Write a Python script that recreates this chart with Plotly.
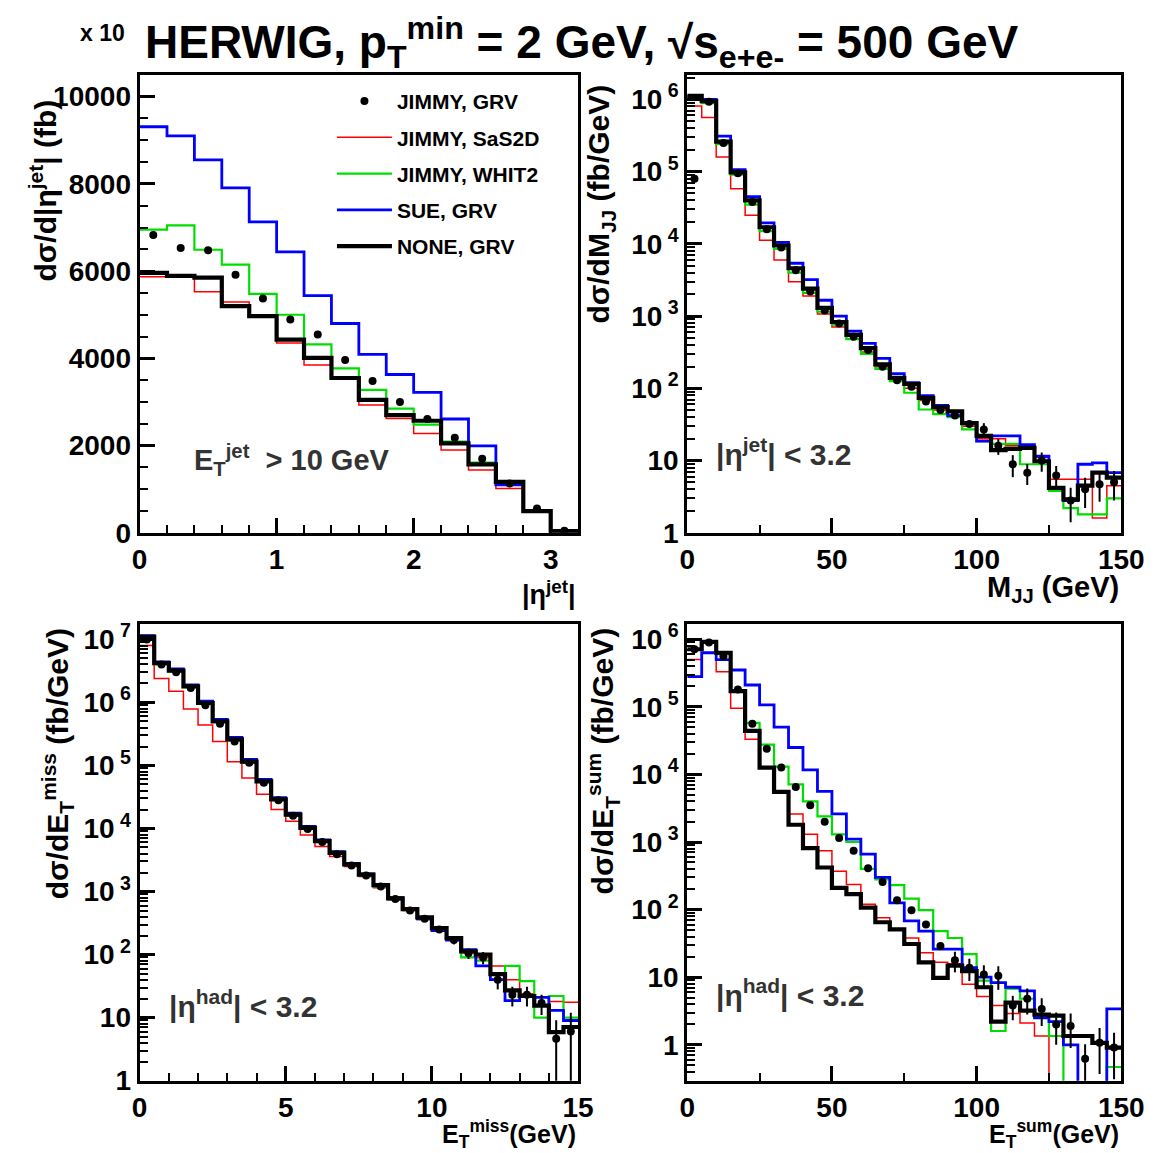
import plotly.graph_objects as go

# the page comes out slightly shrunk and shifted; these map reference pixels to figure pixels
W, H = 1180, 1165
SX, OX = 0.977, 13
SY, OY = 0.985, 9

# --- |eta^jet| distribution (linear, fb) ---
eta_edges = [0.0, 0.2, 0.4, 0.6, 0.8, 1.0, 1.2, 1.4, 1.6, 1.8, 2.0, 2.2, 2.4, 2.6, 2.8, 3.0, 3.2]
eta_jimmy_grv = [6830, 6530, 6480, 5920, 5370, 4890, 4550, 3960, 3480, 3000, 2610, 2180, 1700, 1130, 560, 50]
eta_jimmy_sas = [5870, 5870, 5530, 5290, 4950, 4350, 3850, 3550, 2930, 2620, 2280, 1900, 1440, 1015, 500, 40]
eta_jimmy_whit = [6950, 7050, 6490, 6150, 5480, 5000, 4320, 3770, 3280, 2850, 2480, 2090, 1610, 1100, 520, 40]
eta_sue_grv = [9310, 9100, 8550, 7910, 7130, 6440, 5440, 4800, 4090, 3630, 3220, 2610, 1995, 1100, 500, 40]
eta_none_grv = [5960, 5890, 5850, 5200, 4970, 4430, 4010, 3550, 3050, 2700, 2570, 2050, 1570, 1170, 500, 40]

# --- M_JJ (fb/GeV), 5 GeV bins ---
m_edges = [0, 5, 10, 15, 20, 25, 30, 35, 40, 45, 50, 55, 60, 65, 70, 75, 80, 85, 90, 95,
           100, 105, 110, 115, 120, 125, 130, 135, 140, 145, 150]
m_jimmy_grv = [8.0e4, 9.3e5, 2.5e5, 9.5e4, 3.8e4, 1.6e4, 8.9e3, 4.3e3, 2.2e3, 1.2e3,
               790, 520, 340, 200, 130, 105, 66, 50, 42, 32,
               27, 16, 8.9, 6.8, 10, 6.2, 2.8, 4.0, 4.7, 5.0]
m_jimmy_grv_err = [0, 0, 0, 0, 0, 0, 0, 0, 0, 0,
                   0, 0, 0, 0, 0, 0, 0, 0, 0, 0,
                   6, 4, 3, 2.2, 3, 2.2, 1.4, 1.8, 2.0, 2.2]
m_jimmy_sas = [8.1e5, 5.6e5, 1.6e5, 5.8e4, 2.5e4, 1.12e4, 6.0e3, 3.0e3, 1.9e3, 1.07e3,
               710, 480, 320, 200, 130, 100, 68, 50, 42, 30,
               20, 20, 16, 16, 11, 5.5, 5.5, 5.5, 1.6, 4.5]
m_jimmy_whit = [1.05e6, 8.9e5, 2.4e5, 9.1e4, 3.5e4, 1.5e4, 8.5e3, 4.0e3, 2.1e3, 1.15e3,
                760, 480, 300, 186, 126, 87, 51, 44, 40, 27,
                18.6, 17, 17, 8.9, 8.9, 3.8, 2.2, 1.8, 1.8, 3.0]
m_sue_grv = [1.1e6, 1.0e6, 3.1e5, 1.07e5, 4.5e4, 1.95e4, 1.05e4, 5.4e3, 3.2e3, 1.66e3,
             1.0e3, 620, 420, 260, 160, 120, 79, 58, 42, 33,
             18.6, 22, 22, 16.6, 11.5, 4.2, 2.8, 8.9, 9.3, 6.8]
m_none_grv = [1.12e6, 9.5e5, 2.6e5, 9.8e4, 4.0e4, 1.7e4, 9.5e3, 4.6e3, 2.4e3, 1.3e3,
              830, 550, 360, 215, 140, 115, 74, 55, 48, 33,
              22, 14, 14.5, 15, 9.8, 4.2, 2.9, 4.5, 6.8, 5.8]

# --- E_T^miss (fb/GeV), 0.5 GeV bins ---
emiss_edges = [0, 0.5, 1, 1.5, 2, 2.5, 3, 3.5, 4, 4.5, 5, 5.5, 6, 6.5, 7, 7.5, 8, 8.5, 9, 9.5,
               10, 10.5, 11, 11.5, 12, 12.5, 13, 13.5, 14, 14.5, 15]
emiss_jimmy_grv = [1.0e7, 4.0e6, 3.0e6, 1.7e6, 9.0e5, 4.6e5, 2.4e5, 1.1e5, 5.3e4, 2.8e4,
                   1.6e4, 9.8e3, 6.1e3, 3.9e3, 2.6e3, 1.8e3, 1.2e3, 760, 500, 370,
                   250, 170, 105, 90, 40, 23, 23, 17, 4.6, 6.0]
emiss_jimmy_grv_err = [0, 0, 0, 0, 0, 0, 0, 0, 0, 0,
                       0, 0, 0, 0, 0, 0, 0, 0, 0, 0,
                       30, 25, 20, 20, 12, 8, 8, 6, 4.5, 5.9]
emiss_jimmy_sas = [8.0e6, 2.4e6, 1.5e6, 7.9e5, 4.4e5, 2.4e5, 1.15e5, 6.3e4, 3.5e4, 2.0e4,
                   1.3e4, 7.9e3, 5.2e3, 3.6e3, 2.5e3, 1.74e3, 1.15e3, 740, 500, 360,
                   250, 174, 107, 89, 66, 40, 24, 16, 18, 17.5]
emiss_jimmy_whit = [1.05e7, 4.0e6, 3.1e6, 1.75e6, 9.5e5, 4.9e5, 2.5e5, 1.1e5, 5.5e4, 2.85e4,
                    1.6e4, 1.0e4, 6.2e3, 4.0e3, 2.65e3, 1.8e3, 1.2e3, 760, 510, 380,
                    250, 175, 90, 80, 50, 66, 38, 10, 22, 10]
emiss_sue_grv = [1.15e7, 4.4e6, 3.4e6, 1.9e6, 1.05e6, 5.4e5, 2.8e5, 1.25e5, 6.0e4, 3.1e4,
                 1.75e4, 1.08e4, 6.6e3, 4.3e3, 2.8e3, 1.9e3, 1.3e3, 800, 540, 370,
                 240, 170, 120, 66, 40, 18.6, 22, 21, 13, 9]
emiss_none_grv = [1.1e7, 4.2e6, 3.2e6, 1.8e6, 9.8e5, 5.0e5, 2.6e5, 1.15e5, 5.6e4, 2.9e4,
                  1.66e4, 1.02e4, 6.3e3, 4.1e3, 2.7e3, 1.86e3, 1.26e3, 780, 525, 390,
                  263, 182, 112, 100, 49, 27, 22, 15.5, 5.9, 7.1]

# --- E_T^sum (fb/GeV), 5 GeV bins (1e-3 = empty bin) ---
esum_edges = m_edges
esum_jimmy_grv = [7.1e5, 8.9e5, 5.6e5, 1.8e5, 5.6e4, 2.4e4, 1.26e4, 6.5e3, 3.5e3, 2.0e3,
                  1.15e3, 740, 410, 257, 138, 98, 60, 29, 17.8, 13.8,
                  11, 10.5, 3.8, 4.8, 3.4, 2.0, 1.9, 0.62, 1.07, 0.91]
esum_jimmy_grv_err = [0, 0, 0, 0, 0, 0, 0, 0, 0, 0,
                      0, 0, 0, 0, 0, 0, 0, 0, 6, 5,
                      4, 4, 1.5, 2, 1.5, 1.0, 1.0, 0.4, 0.7, 0.6]
esum_jimmy_sas = [5.0e5, 6.3e5, 3.3e5, 9.5e4, 3.3e4, 1.26e4, 5.4e3, 2.6e3, 1.3e3, 740,
                  370, 235, 120, 76, 51, 38, 23, 16.6, 15.8, 7.9,
                  5.2, 3.8, 2.9, 2.1, 1.35, 1e-3, 1e-3, 1e-3, 1e-3, 1e-3]
esum_jimmy_whit = [7.1e5, 8.9e5, 6.0e5, 1.7e5, 5.8e4, 2.75e4, 1.3e4, 7.1e3, 4.0e3, 2.4e3,
                   1.3e3, 1.0e3, 400, 280, 230, 145, 98, 48, 38, 22,
                   8.9, 1.6, 6.8, 4.8, 2.7, 1.35, 1e-3, 1e-3, 1e-3, 0.47]
esum_sue_grv = [2.8e5, 6.3e5, 5.0e5, 3.5e5, 2.1e5, 1.07e5, 5.0e4, 2.5e4, 1.17e4, 5.6e3,
                2.6e3, 1.1e3, 660, 300, 126, 68, 48, 26, 26, 13.8,
                10, 8.3, 7.1, 6.3, 2.5, 2.2, 1.0, 1e-3, 1e-3, 3.4]
esum_none_grv = [7.1e5, 9.1e5, 6.3e5, 1.7e5, 4.4e4, 1.26e4, 5.5e3, 1.8e3, 810, 420,
                 210, 170, 107, 65, 51, 31, 16.6, 9.8, 14.8, 12.3,
                 7.1, 2.2, 4.2, 3.2, 2.8, 2.7, 1.35, 1.35, 1.07, 0.91]

log_vals = [1, 10, 100, 1000, 10000, 100000, 1000000, 10000000]
log_text = ['1', '10', '10<sup> 2</sup>', '10<sup> 3</sup>', '10<sup> 4</sup>',
            '10<sup> 5</sup>', '10<sup> 6</sup>', '10<sup> 7</sup>']
eta_yvals = [0, 2000, 4000, 6000, 8000, 10000]
eta_ytext = ['0', '2000', '4000', '6000', '8000', '10000']

FONT = 'Liberation Sans, Arial, sans-serif'
names = ['JIMMY, GRV', 'JIMMY, SaS2D', 'JIMMY, WHIT2', 'SUE, GRV', 'NONE, GRV']
colors = ['black', '#ff0000', '#00dd00', '#0000ff', 'black']
widths = [0, 1.5, 2.2, 2.8, 4.2]


def px_x(p):
    return (p - OX) / SX / W


def px_y(p):
    return 1 - (p - OY) / SY / H


fig = go.Figure()


def add_panel(n, edges, dots, dots_err, sas, whit, sue, none):
    xa = 'x' if n == 1 else 'x%d' % n
    ya = 'y' if n == 1 else 'y%d' % n
    show = n == 1
    # lines: red, green, blue, black, then the dots on top
    for k, vals in [(1, sas), (2, whit), (3, sue), (4, none)]:
        fig.add_trace(go.Scatter(
            x=edges, y=list(vals) + [vals[-1]], mode='lines',
            line=dict(shape='hv', color=colors[k], width=widths[k]),
            name=names[k], legendgroup=names[k], legendrank=k + 1,
            showlegend=show, xaxis=xa, yaxis=ya))
    centers = [(edges[i] + edges[i + 1]) / 2 for i in range(len(dots))]
    err = dots_err if dots_err else [0] * len(dots)
    errm = [0.999 * d if e >= d else e for e, d in zip(err, dots)]
    fig.add_trace(go.Scatter(
        x=centers, y=dots, mode='markers',
        marker=dict(color='black', size=8, symbol='circle'),
        error_y=dict(type='data', array=err, arrayminus=errm, visible=True,
                     color='black', thickness=2, width=0),
        name=names[0], legendgroup=names[0], legendrank=1,
        showlegend=show, xaxis=xa, yaxis=ya))


add_panel(1, eta_edges, eta_jimmy_grv, None, eta_jimmy_sas, eta_jimmy_whit, eta_sue_grv, eta_none_grv)
add_panel(2, m_edges, m_jimmy_grv, m_jimmy_grv_err, m_jimmy_sas, m_jimmy_whit, m_sue_grv, m_none_grv)
add_panel(3, emiss_edges, emiss_jimmy_grv, emiss_jimmy_grv_err, emiss_jimmy_sas, emiss_jimmy_whit,
          emiss_sue_grv, emiss_none_grv)
add_panel(4, esum_edges, esum_jimmy_grv, esum_jimmy_grv_err, esum_jimmy_sas, esum_jimmy_whit,
          esum_sue_grv, esum_none_grv)

tickfont = dict(family=FONT, size=28, color='black', weight='bold')


def ax(domain, rng, **kw):
    d = dict(domain=domain, range=rng, showgrid=False, zeroline=False,
             showline=True, linecolor='black', linewidth=3, mirror=True,
             ticks='inside', ticklen=15, tickwidth=2.5, tickcolor='black',
             tickfont=tickfont, fixedrange=True)
    d.update(kw)
    return d


def lin_minor(dt):
    return dict(ticks='inside', ticklen=8, tickwidth=1.5, tickcolor='black', dtick=dt)


# minor ticks of the log axes at 2..9 x 10^k
log_minor_vals = [m * 10.0 ** e for e in range(-1, 8) for m in range(2, 10)]
log_minor = dict(ticks='inside', ticklen=8, tickwidth=1.5, tickcolor='black',
                 tickmode='array', tickvals=log_minor_vals)

top = [px_y(531), px_y(72)]
bot = [px_y(1080), px_y(622)]
left = [px_x(137), px_x(577)]
right = [px_x(686.5), px_x(1122)]

fig.update_layout(
    xaxis=ax(left, [0, 3.2], anchor='y', tickvals=[0, 1, 2, 3], minor=lin_minor(0.2)),
    yaxis=ax(top, [0, 10500], anchor='x', tickvals=eta_yvals, ticktext=eta_ytext,
             minor=lin_minor(500)),
    xaxis2=ax(right, [0, 150], anchor='y2', tickvals=[0, 50, 100, 150], minor=lin_minor(25)),
    yaxis2=ax(top, [0, 6.34], type='log', anchor='x2', tickvals=log_vals, ticktext=log_text,
              minor=log_minor),
    xaxis3=ax(left, [0, 15], anchor='y3', tickvals=[0, 5, 10, 15], minor=lin_minor(1)),
    yaxis3=ax(bot, [0, 7.25], type='log', anchor='x3', tickvals=log_vals, ticktext=log_text,
              minor=log_minor),
    xaxis4=ax(right, [0, 150], anchor='y4', tickvals=[0, 50, 100, 150], minor=lin_minor(25)),
    yaxis4=ax(bot, [-0.53, 6.23], type='log', anchor='x4', tickvals=log_vals, ticktext=log_text,
              minor=log_minor),
)

ann = []


def text(x, y, s, size=24, angle=0, xanchor='center', weight='bold', color='black'):
    ann.append(dict(x=px_x(x), y=px_y(y), xref='paper', yref='paper', text=s, showarrow=False,
                    textangle=angle, xanchor=xanchor, yanchor='middle',
                    font=dict(family=FONT, size=size, color=color, weight=weight)))


text(100, 30, 'x 10', size=23)
text(580, 40, 'HERWIG, p<sub>T</sub><sup>min</sup> = 2 GeV, \u221as<sub>e+e-</sub> = 500 GeV', size=46)

text(40, 188, 'd\u03c3/d|\u03b7<sup>jet</sup>| (fb)', size=30, angle=-90)
text(577, 591, '|\u03b7<sup>jet</sup>|', size=27, xanchor='right')
text(190, 458, 'E<sub>T</sub><sup>jet</sup>  > 10 GeV', size=29, xanchor='left', color='#333333')

text(600, 202, 'd\u03c3/dM<sub>JJ</sub> (fb/GeV)', size=30, angle=-90)
text(1122, 587, 'M<sub>JJ</sub> (GeV)', size=29, xanchor='right')
text(713, 450, '|\u03b7<sup>jet</sup>| < 3.2', size=30, xanchor='left', color='#333333')

text(55, 762, 'd\u03c3/dE<sub>T</sub><sup>miss</sup> (fb/GeV)', size=30, angle=-90)
text(577, 1133, 'E<sub>T</sub><sup>miss</sup>(GeV)', size=25, xanchor='right')
text(165, 1003, '|\u03b7<sup>had</sup>| < 3.2', size=30, xanchor='left', color='#333333')

text(602, 760, 'd\u03c3/dE<sub>T</sub><sup>sum</sup> (fb/GeV)', size=30, angle=-90)
text(1122, 1133, 'E<sub>T</sub><sup>sum</sup>(GeV)', size=25, xanchor='right')
text(713, 992, '|\u03b7<sup>had</sup>| < 3.2', size=30, xanchor='left', color='#333333')

fig.update_layout(
    width=W, height=H, autosize=False,
    margin=dict(l=0, r=0, t=0, b=0),
    paper_bgcolor='white', plot_bgcolor='white',
    annotations=ann,
    legend=dict(x=px_x(330), y=px_y(78), xanchor='left', yanchor='top',
                bgcolor='rgba(0,0,0,0)', traceorder='grouped', tracegroupgap=6,
                itemwidth=55,
                font=dict(family=FONT, size=21, color='black', weight='bold')),
)

fig.write_html("out.html")
